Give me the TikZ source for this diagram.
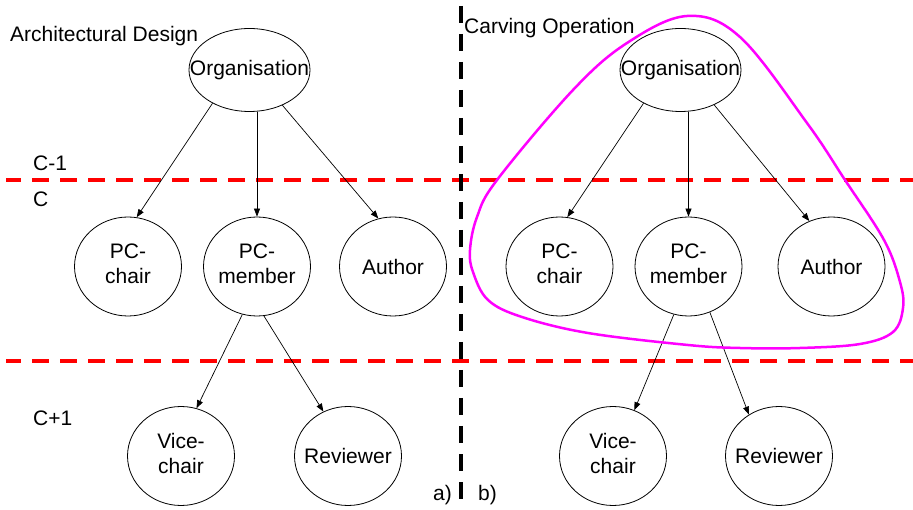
\documentclass[tikz,border=0pt]{standalone}
\usepackage{fontspec}
\setmainfont{Liberation Sans}
\usetikzlibrary{shapes.geometric,arrows.meta}
\definecolor{carvemag}{RGB}{255,0,255}
\definecolor{levelred}{RGB}{255,0,0}
\newcommand{\twol}[2]{\makebox[0pt]{\begin{tabular}{@{}c@{}}#1\\#2\end{tabular}}}
\newcommand{\onel}[1]{\makebox[0pt]{#1}}
\tikzset{
  role/.style={ellipse,draw,line width=0.8pt,inner sep=0pt,minimum width=107pt,minimum height=99pt},
  orgnode/.style={ellipse,draw,line width=0.8pt,inner sep=0pt,minimum width=121pt,minimum height=83pt},
  arr/.style={line width=0.7pt,-{Triangle[length=8pt,width=6pt]}},
  lbl/.style={anchor=base west,inner sep=0pt},
  levelline/.style={levelred,line width=4pt,dash pattern=on 17pt off 11pt,dash phase=2pt},
  splitline/.style={black,line width=4pt,dash pattern=on 17pt off 11pt},
  carve/.style={carvemag,line width=2.5pt}
}
\begin{document}
\begin{tikzpicture}[x=1pt,y=-1pt,font=\fontsize{21}{25}\selectfont]
\useasboundingbox (0,0) rectangle (913,510);
% level separators
\draw[levelline] (6,180.5) -- (913,180.5);
\draw[levelline] (6,361.5) -- (913,361.5);
\draw[splitline] (461,6) -- (461,510);
% labels
\node[lbl] (tA) at (10,42) {Architectural Design};
\node[lbl] (tB) at (464,34) {Carving Operation};
\node[lbl] (lm1) at (33,171) {C-1};
\node[lbl] (l0) at (33,207) {C};
\node[lbl] (lp1) at (33,425) {C+1};
\node[lbl] (la) at (433,500) {a)};
\node[lbl] (lb) at (478,500) {b)};
% left tree
\node[orgnode] (org) at (249.5,70) {\onel{Organisation}};
\node[role] (pcc) at (128,266.5) {\twol{PC-}{chair}};
\node[role] (pcm) at (257,266.5) {\twol{PC-}{member}};
\node[role] (auth) at (393,266.5) {\onel{Author}};
\node[role] (vice) at (181,456) {\twol{Vice-}{chair}};
\node[role] (rev) at (348,456) {\onel{Reviewer}};
\draw[arr] (org.-138) -- (pcc.80);
\draw[arr] (org.south -| pcm.north) -- (pcm.north);
\draw[arr] (org.-47) -- (auth.107);
\draw[arr] (pcm.-107) -- (vice.72);
\draw[arr] (pcm.-82) -- (rev.119);
% right tree
\node[orgnode] (org2) at (680.5,70) {\onel{Organisation}};
\node[role] (pcc2) at (559.5,266.5) {\twol{PC-}{chair}};
\node[role] (pcm2) at (688.5,266.5) {\twol{PC-}{member}};
\node[role] (auth2) at (831.5,266.5) {\onel{Author}};
\node[role] (vice2) at (613,456) {\twol{Vice-}{chair}};
\node[role] (rev2) at (779,456) {\onel{Reviewer}};
\draw[arr] (org2.-138) -- (pcc2.81);
\draw[arr] (org2.south -| pcm2.north) -- (pcm2.north);
\draw[arr] (org2.-46) -- (auth2.116);
\draw[arr] (pcm2.-107) -- (vice2.65);
\draw[arr] (pcm2.-65) -- (rev2.126);
% carving outline
\draw[carve] plot[smooth cycle,tension=0.6] coordinates {
  (687,16) (740,37) (807,123) (845,180) (884,240) (900,282) (903,308)
  (893,332) (860,344) (800,348) (740,348) (688,345) (588,333) (522,317)
  (488,300) (473,272) (470,250) (477,217) (497,180) (573,90) (627,43)};
\end{tikzpicture}
\end{document}
